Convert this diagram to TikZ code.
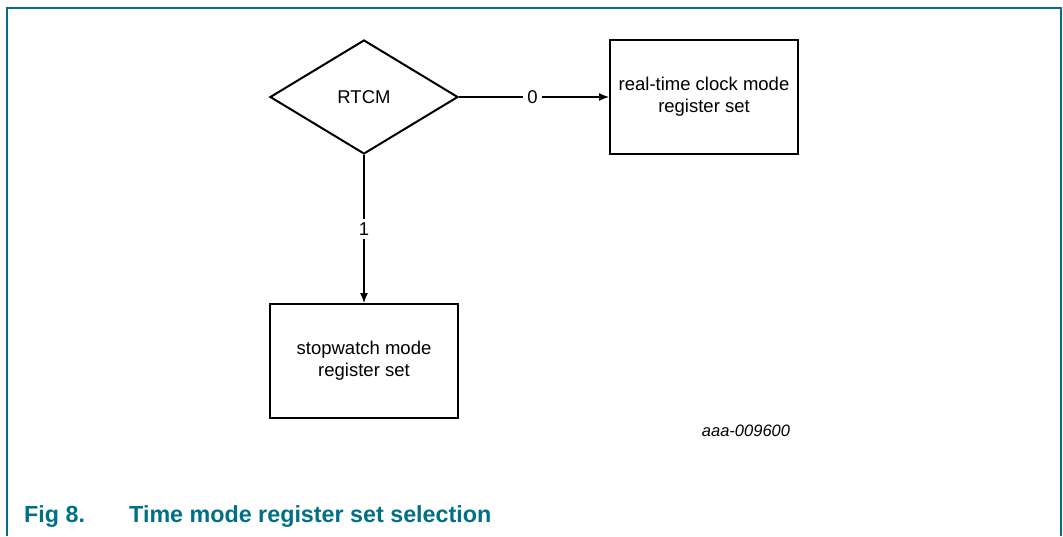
\documentclass[tikz,border=0pt]{standalone}
\usepackage{fontspec}
\setmainfont{Liberation Sans}
\usetikzlibrary{shapes.geometric,arrows.meta}
\definecolor{nxpteal}{RGB}{0,112,134}
\tikzset{
  blk/.style={draw, line width=2pt, minimum width=188pt, minimum height=114pt, inner sep=0pt, align=center, font=\fontsize{18.5}{22}\selectfont},
  dec/.style={draw, line width=2pt, shape=diamond, aspect=1.65, minimum width=188pt, minimum height=114pt, inner sep=0pt, font=\fontsize{18.5}{22}\selectfont},
  conn/.style={line width=1.3pt, -{Latex[length=10pt,width=8pt]}},
  lbl/.style={fill=white, inner sep=4pt, font=\fontsize{18.5}{22}\selectfont},
}
\begin{document}
\begin{tikzpicture}[x=1pt,y=-1pt]
\useasboundingbox (0,0) rectangle (1063,536);
\draw[nxpteal, line width=1.5pt] (7,536) -- (7,8) -- (1061,8) -- (1061,536);
\node[dec] (rtcm) at (364,97) {RTCM};
\node[blk] (rtc) at (704,97) {real-time clock mode\\register set};
\node[blk] (sw) at (364,361) {stopwatch mode\\register set};
\draw[conn] (rtcm.east) -- node[lbl, pos=0.49] (l0) {0} (rtc.west);
\draw[conn] (rtcm.south) -- node[lbl, pos=0.5] (l1) {1} (sw.north);
\node[font=\fontsize{16.5}{20}\selectfont\itshape] (id) at (746,431) {aaa-009600};
\node[anchor=west, text=nxpteal, font=\fontsize{23.3}{27}\selectfont\bfseries, inner sep=0pt] (cap) at (24,517) {\makebox[105pt][l]{Fig 8.}Time mode register set selection};
\end{tikzpicture}
\end{document}
